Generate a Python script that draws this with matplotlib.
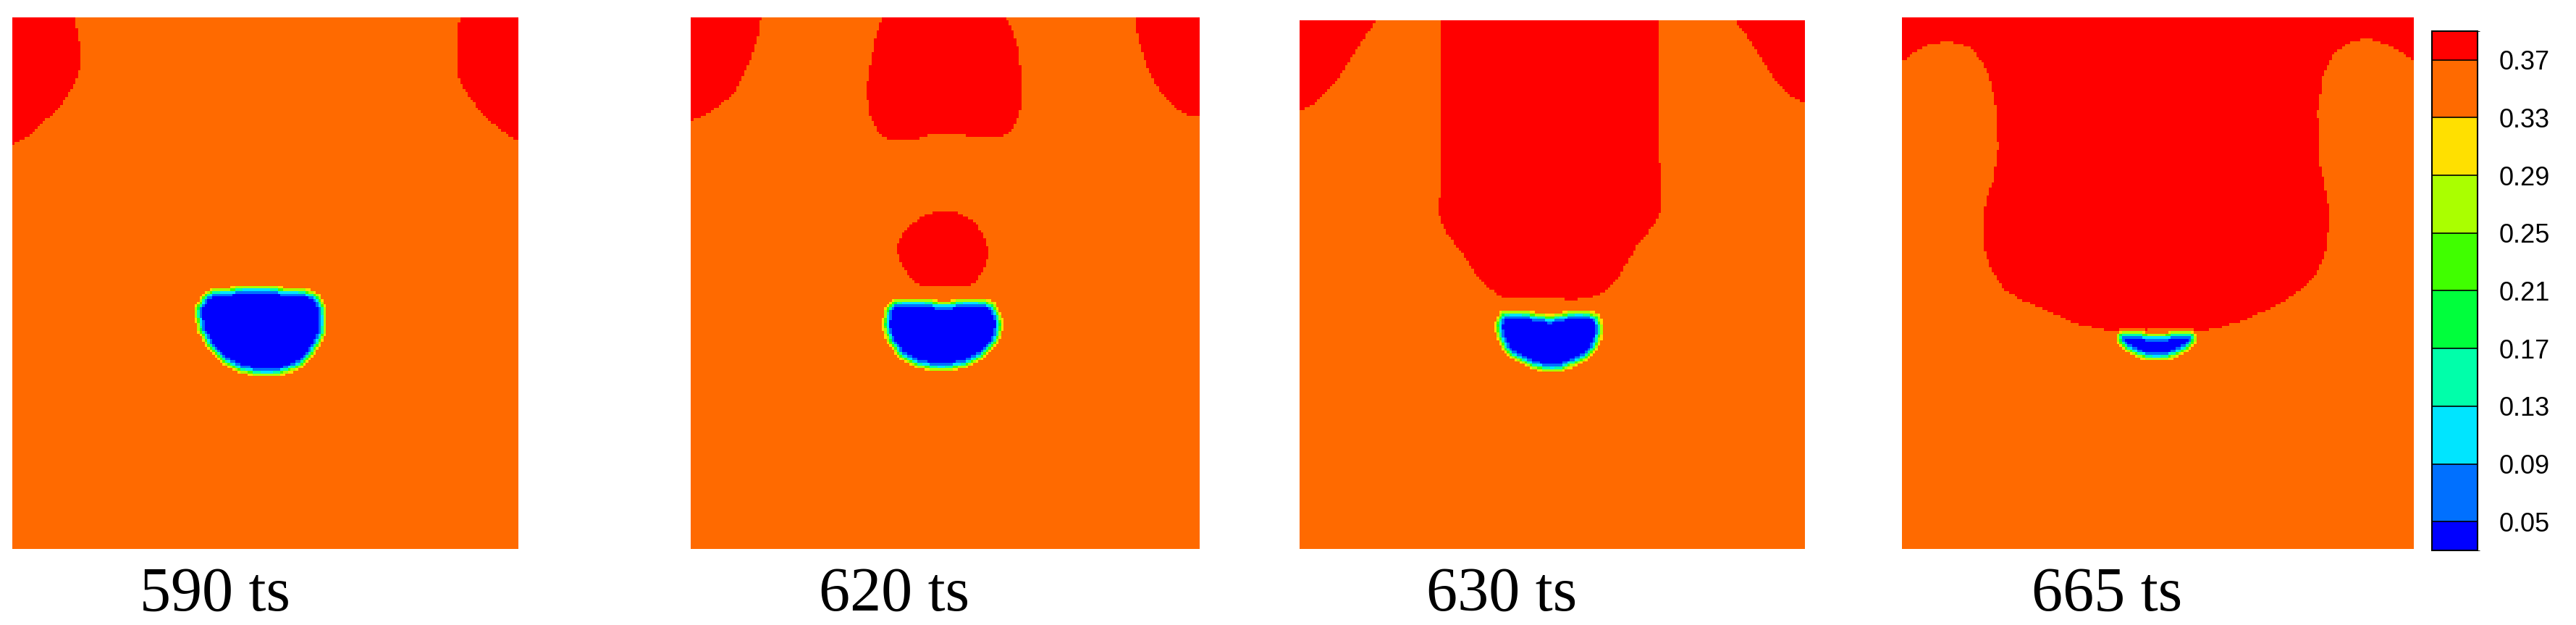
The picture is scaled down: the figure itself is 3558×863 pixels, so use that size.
import numpy as np
import matplotlib
matplotlib.use("Agg")
import matplotlib.pyplot as plt
from matplotlib.colors import ListedColormap, BoundaryNorm
from matplotlib.cm import ScalarMappable
from matplotlib.path import Path

# contour levels of the colour legend
level_bounds = [0.03, 0.05, 0.09, 0.13, 0.17, 0.21, 0.25, 0.29, 0.33, 0.37, 0.39]
level_ticks = [0.05, 0.09, 0.13, 0.17, 0.21, 0.25, 0.29, 0.33, 0.37]
level_colors = ["#0000FF", "#0070FF", "#00E5FF", "#00FFAA", "#00FF3C",
                "#40FF00", "#AAFF00", "#FFE000", "#FF6A00", "#FF0000"]

frame_labels = ["590 ts", "620 ts", "630 ts", "665 ts"]

# field values of the three phases
val_bulk = 0.35
val_rich = 0.385
val_drop = 0.035

# outlines, (x, y) as fraction of panel, y measured from the top
# 590 ts
p1_red = [
    [(0, 0), (0.124, 0), (0.133, 0.05), (0.133, 0.10), (0.127, 0.119), (0.113, 0.141),
     (0.098, 0.164), (0.08, 0.182), (0.058, 0.2), (0.032, 0.223), (0.007, 0.239), (0, 0.244)],
    [(1, 0), (0.884, 0), (0.879, 0.028), (0.879, 0.105), (0.889, 0.128), (0.903, 0.15),
     (0.922, 0.173), (0.944, 0.196), (0.969, 0.214), (0.991, 0.23), (1, 0.233)],
]
p1_drop = [(0.403, 0.514), (0.475, 0.511), (0.572, 0.514), (0.602, 0.525), (0.617, 0.554),
           (0.615, 0.591), (0.595, 0.627), (0.567, 0.654), (0.529, 0.668), (0.491, 0.670),
           (0.452, 0.663), (0.419, 0.646), (0.386, 0.613), (0.369, 0.582), (0.366, 0.55),
           (0.379, 0.525)]

# 620 ts
p2_red = [
    [(0, 0), (0.138, 0), (0.135, 0.026), (0.128, 0.05), (0.12, 0.072), (0.11, 0.095),
     (0.1, 0.117), (0.084, 0.144), (0.055, 0.167), (0.026, 0.185), (0, 0.194)],
    [(1, 0), (0.873, 0), (0.878, 0.035), (0.889, 0.072), (0.905, 0.113), (0.926, 0.144),
     (0.947, 0.167), (0.975, 0.182), (1, 0.188)],
    [(0.376, 0), (0.361, 0.046), (0.351, 0.099), (0.345, 0.139), (0.351, 0.179), (0.365, 0.212),
     (0.381, 0.23), (0.44, 0.23), (0.479, 0.219), (0.519, 0.219), (0.555, 0.225), (0.618, 0.224),
     (0.637, 0.205), (0.649, 0.172), (0.65, 0.113), (0.644, 0.06), (0.631, 0.02), (0.618, 0)],
    [(0.496, 0.364), (0.46, 0.37), (0.425, 0.395), (0.406, 0.425), (0.408, 0.455), (0.425, 0.48),
     (0.447, 0.503), (0.555, 0.503), (0.575, 0.478), (0.586, 0.445), (0.578, 0.41),
     (0.555, 0.383), (0.53, 0.368)],
]
p2_drop = [(0.401, 0.535), (0.44, 0.533), (0.496, 0.54), (0.558, 0.533), (0.594, 0.541),
           (0.608, 0.576), (0.601, 0.609), (0.572, 0.636), (0.532, 0.656), (0.493, 0.66),
           (0.453, 0.656), (0.414, 0.636), (0.391, 0.609), (0.382, 0.576), (0.387, 0.55)]

# 630 ts
p3_red = [
    [(0, 0), (0.152, 0), (0.131, 0.029), (0.104, 0.069), (0.078, 0.109), (0.052, 0.136),
     (0.025, 0.162), (0, 0.172)],
    [(1, 0), (0.855, 0), (0.885, 0.029), (0.911, 0.069), (0.938, 0.109), (0.971, 0.142), (1, 0.159)],
    [(0.28, 0), (0.28, 0.282), (0.276, 0.368), (0.29, 0.402), (0.323, 0.441), (0.349, 0.481),
     (0.376, 0.508), (0.402, 0.525), (0.548, 0.528), (0.601, 0.519), (0.634, 0.481),
     (0.667, 0.428), (0.70, 0.388), (0.713, 0.362), (0.713, 0.289), (0.71, 0.176), (0.71, 0)],
]
p3_drop = [(0.402, 0.556), (0.442, 0.555), (0.495, 0.564), (0.554, 0.553), (0.587, 0.561),
           (0.597, 0.584), (0.587, 0.614), (0.561, 0.641), (0.521, 0.657), (0.495, 0.661),
           (0.462, 0.654), (0.422, 0.634), (0.399, 0.608), (0.392, 0.578)]

# 665 ts
p4_red = [
    [(0, 0), (0, 0.086), (0.022, 0.066), (0.054, 0.05), (0.093, 0.045), (0.133, 0.056),
     (0.159, 0.086), (0.175, 0.126), (0.185, 0.179), (0.188, 0.245), (0.178, 0.311),
     (0.165, 0.338), (0.159, 0.377), (0.16, 0.43), (0.172, 0.47), (0.198, 0.51), (0.231, 0.53),
     (0.27, 0.546), (0.309, 0.563), (0.348, 0.579), (0.387, 0.586), (0.426, 0.593),
     (0.498, 0.586), (0.57, 0.593), (0.622, 0.583), (0.668, 0.57), (0.714, 0.55), (0.753, 0.53),
     (0.792, 0.503), (0.818, 0.47), (0.831, 0.43), (0.835, 0.364), (0.825, 0.311),
     (0.816, 0.272), (0.812, 0.179), (0.822, 0.113), (0.845, 0.066), (0.877, 0.046),
     (0.91, 0.04), (0.943, 0.05), (0.975, 0.066), (1, 0.079), (1, 0)],
]
p4_drop = [(0.43, 0.594), (0.46, 0.596), (0.498, 0.601), (0.537, 0.596), (0.565, 0.594),
           (0.572, 0.603), (0.555, 0.622), (0.525, 0.637), (0.498, 0.641), (0.47, 0.637),
           (0.44, 0.622), (0.423, 0.603)]

frames = [(p1_red, p1_drop), (p2_red, p2_drop), (p3_red, p3_drop), (p4_red, p4_drop)]


def make_field(red_shapes, drop_shape, n=200, sigma=1.0):
    c = (np.arange(n) + 0.5) / n
    uu, vv = np.meshgrid(c, c)
    pts = np.column_stack([uu.ravel(), vv.ravel()])
    field = np.full(n * n, val_bulk)
    for shp in red_shapes:
        field[Path(shp).contains_points(pts)] = val_rich
    field[Path(drop_shape).contains_points(pts)] = val_drop
    field = field.reshape(n, n)
    # diffuse interface
    k = np.arange(-3, 4)
    w = np.exp(-0.5 * (k / sigma) ** 2)
    w /= w.sum()
    padded = np.pad(field, 3, mode="edge")
    tmp = np.apply_along_axis(lambda r: np.convolve(r, w, mode="valid"), 1, padded)
    return np.apply_along_axis(lambda r: np.convolve(r, w, mode="valid"), 0, tmp)


cmap = ListedColormap(level_colors)
norm = BoundaryNorm(level_bounds, cmap.N)

W, H = 3558, 863
fig = plt.figure(figsize=(W / 100, H / 100), dpi=100)

# panel boxes in pixels: left, top, right, bottom
boxes = [(17, 24, 716, 758), (954, 24, 1656, 758), (1795, 28, 2493, 758), (2627, 24, 3334, 758)]

for (red, drop), box, label in zip(frames, boxes, frame_labels):
    l, t, r, b = box
    ax = fig.add_axes([l / W, 1 - b / H, (r - l) / W, (b - t) / H])
    field = make_field(red, drop)
    ax.imshow(field, cmap=cmap, norm=norm, extent=(0, 1, 1, 0), origin="upper",
              interpolation="nearest", aspect="auto")
    ax.set_xlim(0, 1)
    ax.set_ylim(1, 0)
    ax.set_axis_off()
    fig.text((l + 0.4 * (r - l)) / W, 1 - 822 / H, label, ha="center", va="center",
             fontsize=62, family="Liberation Serif")

cax = fig.add_axes([3359 / W, 1 - 760 / H, 63 / W, 717 / H])
cb = fig.colorbar(ScalarMappable(norm=norm, cmap=cmap), cax=cax, boundaries=level_bounds,
                  ticks=level_ticks, spacing="proportional", drawedges=True)
cb.outline.set_linewidth(1.5)
cb.dividers.set_linewidth(1.2)
cb.ax.set_yticklabels(["%.2f" % v for v in level_ticks], family="Liberation Sans")
cb.ax.tick_params(length=0, pad=21, labelsize=26)

fig.savefig("out.png", dpi=100)
